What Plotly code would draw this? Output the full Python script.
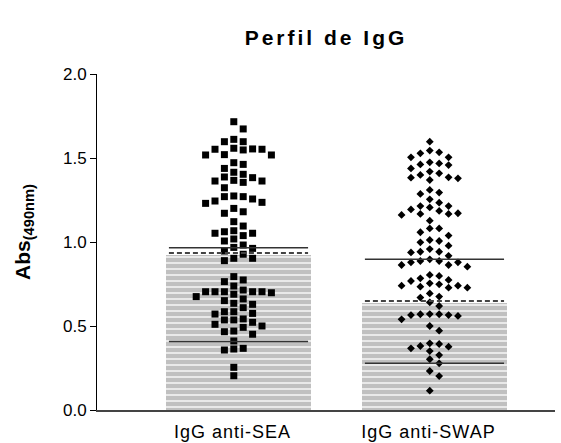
import plotly.graph_objects as go

# ---------------- data ----------------
categories = ["IgG anti-SEA", "IgG anti-SWAP"]

sea_values = [
    1.716, 1.673,
    1.597, 1.597, 1.611,
    1.554, 1.552, 1.520, 1.518, 1.518, 1.548, 1.552, 1.558,
    1.472, 1.462, 1.438,
    1.403, 1.415,
    1.383, 1.387, 1.363, 1.355, 1.363, 1.367,
    1.323,
    1.274, 1.270, 1.244, 1.230, 1.236, 1.256, 1.270,
    1.200, 1.180, 1.171,
    1.095, 1.121,
    1.067, 1.052, 1.038, 1.018, 1.052, 1.061,
    1.006,
    0.982, 0.962, 0.968, 0.946,
    0.927,
    0.903, 0.889, 0.903,
    0.794, 0.764, 0.774, 0.738,
    0.704, 0.704, 0.704, 0.704, 0.714, 0.689, 0.698, 0.704,
    0.675, 0.651, 0.661,
    0.629, 0.609, 0.635,
    0.571, 0.585, 0.585, 0.575,
    0.536, 0.536, 0.542, 0.522,
    0.510, 0.500, 0.492,
    0.470, 0.466, 0.451,
    0.411,
    0.363, 0.357, 0.367,
    0.254, 0.204,
]

swap_values = [
    1.597,
    1.544, 1.528, 1.504, 1.504, 1.534,
    1.468, 1.458, 1.438, 1.462, 1.474,
    1.419, 1.399, 1.383, 1.369, 1.379, 1.385, 1.409,
    1.294, 1.310, 1.286,
    1.254,
    1.234, 1.214, 1.194, 1.185, 1.206, 1.214,
    1.171, 1.167, 1.161, 1.167,
    1.127,
    1.081, 1.081,
    1.058, 1.038,
    1.006, 0.978, 0.998, 1.012,
    0.958, 0.942, 0.942, 0.918, 0.938,
    0.887, 0.879, 0.863, 0.853, 0.863, 0.879, 0.887, 0.897,
    0.798, 0.784, 0.804,
    0.768, 0.748, 0.728, 0.734, 0.728, 0.740, 0.740, 0.754, 0.774,
    0.675, 0.669, 0.694,
    0.641, 0.619,
    0.570, 0.565, 0.560, 0.540, 0.565, 0.570, 0.571,
    0.500, 0.472,
    0.397, 0.381, 0.367, 0.327, 0.351, 0.377, 0.393,
    0.278, 0.302,
    0.232, 0.202,
    0.115,
]

bar_values = [0.92, 0.638]          # bar heights
mean_lines = [0.934, 0.649]         # dashed reference lines
upper_lines = [0.966, 0.897]        # upper solid reference lines
lower_lines = [0.407, 0.278]        # lower solid reference lines
y_ticks = [0.0, 0.5, 1.0, 1.5, 2.0]

# ---------------- layout constants ----------------
W, H = 561, 443
M_L, M_R, M_T, M_B = 97, 6, 74, 33
X_RANGE = [0.278, 2.615]
Y_RANGE = [0.0, 2.0]
plot_w = W - M_L - M_R
plot_h = H - M_T - M_B
px_per_x = plot_w / (X_RANGE[1] - X_RANGE[0])
px_per_y = plot_h / (Y_RANGE[1] - Y_RANGE[0])

BAR_WIDTH = 0.735
LINE_HALF = 0.355
COL_PX = 9.4      # horizontal spacing of swarm columns (px)
SEP_PX = 7.6      # minimal vertical separation in one column (px)


def swarm_offsets(vals):
    """Simple deterministic beeswarm: columns at half offsets around center."""
    order = sorted(range(len(vals)), key=lambda i: -vals[i])
    slot_seq = []
    for k in range(12):
        slot_seq += [-(k + 0.5), (k + 0.5)]
    slots = {}
    offs = [0.0] * len(vals)
    for i in order:
        ypx = vals[i] * px_per_y
        for s in slot_seq:
            if all(abs(ypx - y) >= SEP_PX for y in slots.get(s, [])):
                slots.setdefault(s, []).append(ypx)
                offs[i] = s * COL_PX / px_per_x
                break
    return offs


fig = go.Figure()

positions = [1, 2]
fig.add_trace(go.Bar(
    x=positions, y=bar_values, width=BAR_WIDTH,
    marker=dict(color="#c0c0c0", line_width=0,
                pattern=dict(shape="-", size=6, solidity=0.22,
                             fgcolor="white", bgcolor="#c0c0c0",
                             fillmode="replace")),
    showlegend=False, hoverinfo="skip",
))

symbols = ["square", "diamond"]
sizes = [7, 6]
for pos, vals, sym, sz in zip(positions, [sea_values, swap_values], symbols, sizes):
    offs = swarm_offsets(vals)
    fig.add_trace(go.Scatter(
        x=[pos + o for o in offs], y=vals, mode="markers",
        marker=dict(symbol=sym, size=sz, color="black", line_width=0),
        showlegend=False, cliponaxis=False,
    ))

for pos, mv, up, lo in zip(positions, mean_lines, upper_lines, lower_lines):
    for val, dash, col, w in [(up, "solid", "#333333", 1.5),
                              (lo, "solid", "#333333", 1.5),
                              (mv, "5px,3px", "#444444", 2)]:
        fig.add_shape(type="line", xref="x", yref="y",
                      x0=pos - LINE_HALF, x1=pos + LINE_HALF, y0=val, y1=val,
                      line=dict(color=col, width=w, dash=dash), layer="above")

FONT = "Liberation Sans, Arial, sans-serif"

fig.update_layout(
    width=W, height=H,
    margin=dict(l=M_L, r=M_R, t=M_T, b=M_B, autoexpand=False),
    paper_bgcolor="white", plot_bgcolor="white",
    font=dict(family=FONT, color="black"),
    title=dict(text="<b>Perfil de IgG</b>", x=0.5, xref="paper",
               y=(H - 38) / H, yref="container", yanchor="middle",
               xanchor="center", font=dict(size=21, family=FONT)),
    bargap=0,
    xaxis=dict(range=X_RANGE, tickvals=positions, ticktext=categories,
               showline=True, linecolor="#444444", linewidth=2,
               ticks="", showgrid=False, zeroline=False,
               tickfont=dict(size=18), ticklabelshift=-6,
               ticklabelstandoff=4, fixedrange=True),
    yaxis=dict(range=Y_RANGE, tickvals=y_ticks, tickformat=".1f",
               showline=True, linecolor="black", linewidth=1,
               ticks="outside", ticklen=6, tickcolor="black",
               showgrid=False, zeroline=False, tickfont=dict(size=17),
               fixedrange=True),
    annotations=[dict(text="<b>Abs<sub>(490nm)</sub></b>", textangle=-90,
                      xref="paper", yref="paper",
                      x=(24 - M_L) / plot_w, y=(H - M_B - 232) / plot_h,
                      xanchor="center", yanchor="middle", showarrow=False,
                      font=dict(size=21, family=FONT))],
)

post = """
var s = document.createElement('style');
s.innerHTML = '.gtitle{letter-spacing:3px} .xtick text{letter-spacing:1px}';
document.head.appendChild(s);
"""
fig.write_html("out.html", post_script=post)
